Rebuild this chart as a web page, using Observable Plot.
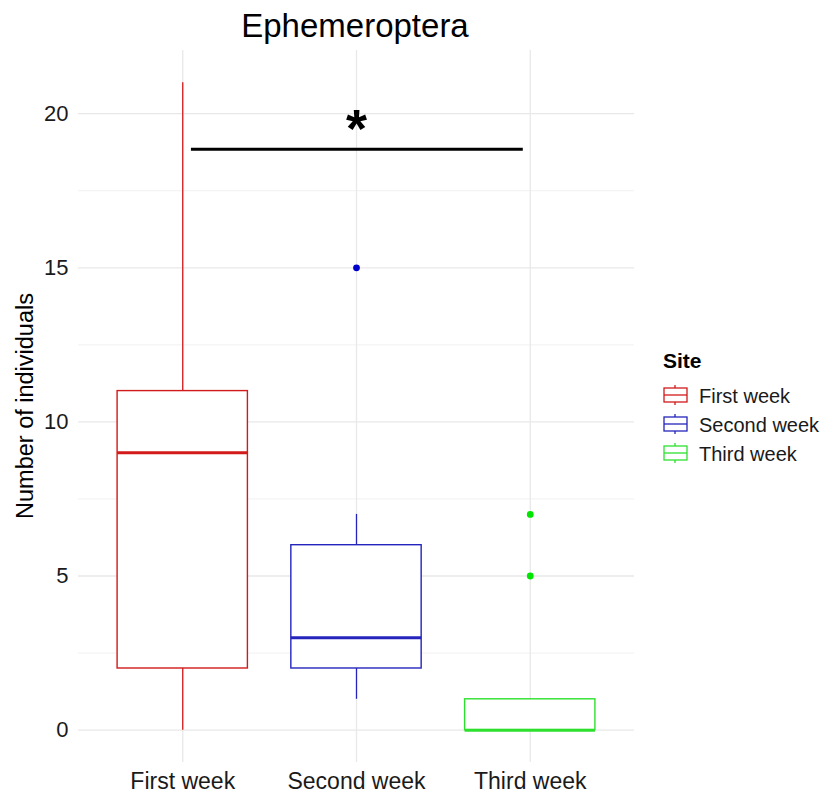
<!DOCTYPE html>
<html>
<head>
<meta charset="utf-8">
<script src="https://cdn.jsdelivr.net/npm/d3@7"></script>
<script src="https://cdn.jsdelivr.net/npm/@observablehq/plot@0.6"></script>
<style>
  html, body { margin: 0; padding: 0; background: #fff; }
  #chart svg { display: block; font-family: "Liberation Sans", Arial, sans-serif; }
</style>
</head>
<body>
<div id="chart"></div>
<script>
// Ephemeroptera counts per sampling week: box-plot summaries
const weeks    = ["First week", "Second week", "Third week"];
const lowWhisk = [0, 1, 0];
const q1       = [2, 2, 0];
const medians  = [9, 3, 0];
const q3       = [11, 6, 1];
const highWhisk= [21, 7, 1];
const outlierWeek  = ["Second week", "Third week", "Third week"];
const outlierValue = [15, 5, 7];
const yTicks   = [0, 5, 10, 15, 20];
const yMinor   = [2.5, 7.5, 12.5, 17.5];
const lineColors = ["#d21a1a", "#2525bd", "#2ee02e"];
const dotColors  = ["#d00000", "#0000cd", "#00e600"];
// significance bracket between first and third week
const sigLevel = 18.85;
const sigLabel = "*";

const pos = w => weeks.indexOf(w) + 1;
const boxes = weeks.map((w, i) => ({
  week: w, x: i + 1, lo: lowWhisk[i], q1: q1[i], med: medians[i], q3: q3[i], hi: highWhisk[i]
}));
const outliers = outlierWeek.map((w, i) => ({week: w, x: pos(w), y: outlierValue[i]}));
const half = 0.375;

const plot = Plot.plot({
  width: 824,
  height: 798,
  marginTop: 50,
  marginBottom: 36,
  marginLeft: 78,
  marginRight: 190,
  style: {fontFamily: "Liberation Sans, Arial, sans-serif", background: "#fff"},
  x: {type: "linear", domain: [0.4, 3.6], axis: null},
  y: {domain: [-1.05, 22.05], axis: null},
  color: {domain: weeks, range: lineColors},
  marks: [
    Plot.ruleY(yMinor, {stroke: "#efefef", strokeWidth: 0.9}),
    Plot.ruleY(yTicks, {stroke: "#e8e8e8", strokeWidth: 1.3}),
    Plot.ruleX([1, 2, 3], {stroke: "#e8e8e8", strokeWidth: 1.3}),
    Plot.axisY({ticks: yTicks, tickSize: 0, tickPadding: 10, fontSize: 22, fill: "#1a1a1a", label: null}),
    Plot.axisX({ticks: [1, 2, 3], tickFormat: d => weeks[d - 1], tickSize: 0, tickPadding: 10,
                fontSize: 23, fill: "#1a1a1a", label: null}),
    Plot.ruleX(boxes, {x: "x", y1: "lo", y2: "hi", stroke: "week", strokeWidth: 1.3}),
    Plot.rect(boxes, {x1: d => d.x - half, x2: d => d.x + half, y1: "q1", y2: "q3",
                      fill: "white", stroke: "week", strokeWidth: 1.4}),
    Plot.ruleY(boxes, {y: "med", x1: d => d.x - half, x2: d => d.x + half, stroke: "week", strokeWidth: 3}),
    Plot.dot(outliers, {x: "x", y: "y", r: 3.4, fill: d => dotColors[weeks.indexOf(d.week)], stroke: "none"}),
    Plot.ruleY([sigLevel], {x1: 1.05, x2: 2.96, stroke: "black", strokeWidth: 3}),
    Plot.text([sigLabel], {x: 2, y: sigLevel, dy: -2, fontSize: 54, fontWeight: "bold",
                           fill: "black", textAnchor: "middle", lineAnchor: "bottom"})
  ]
});

document.getElementById("chart").appendChild(plot);

// Title, y-axis label and legend
const svg = d3.select(plot);
svg.append("text")
  .attr("x", 355).attr("y", 37)
  .attr("text-anchor", "middle")
  .attr("font-size", 33)
  .attr("fill", "#000")
  .text("Ephemeroptera");

svg.append("text")
  .attr("transform", "translate(33,406) rotate(-90)")
  .attr("text-anchor", "middle")
  .attr("font-size", 23.5)
  .attr("fill", "#000")
  .text("Number of individuals");

const legend = svg.append("g").attr("transform", "translate(663,0)").attr("text-anchor", "start");
legend.append("text")
  .attr("x", 0).attr("y", 368)
  .attr("font-size", 21).attr("font-weight", "bold").attr("fill", "#000")
  .text("Site");
const color = plot.scale("color");
weeks.forEach((w, i) => {
  const cy = 395 + i * 29;
  const c = color.apply(w);
  const g = legend.append("g").attr("stroke", c).attr("fill", "none").attr("stroke-width", 1.3);
  g.append("line").attr("x1", 12).attr("x2", 12).attr("y1", cy - 10).attr("y2", cy + 10);
  g.append("rect").attr("x", 1).attr("y", cy - 7).attr("width", 23).attr("height", 14).attr("fill", "white");
  g.append("line").attr("x1", 1).attr("x2", 24).attr("y1", cy).attr("y2", cy);
  legend.append("text")
    .attr("x", 36).attr("y", cy + 7.5)
    .attr("font-size", 20).attr("fill", "#1a1a1a")
    .text(w);
});
</script>
</body>
</html>
